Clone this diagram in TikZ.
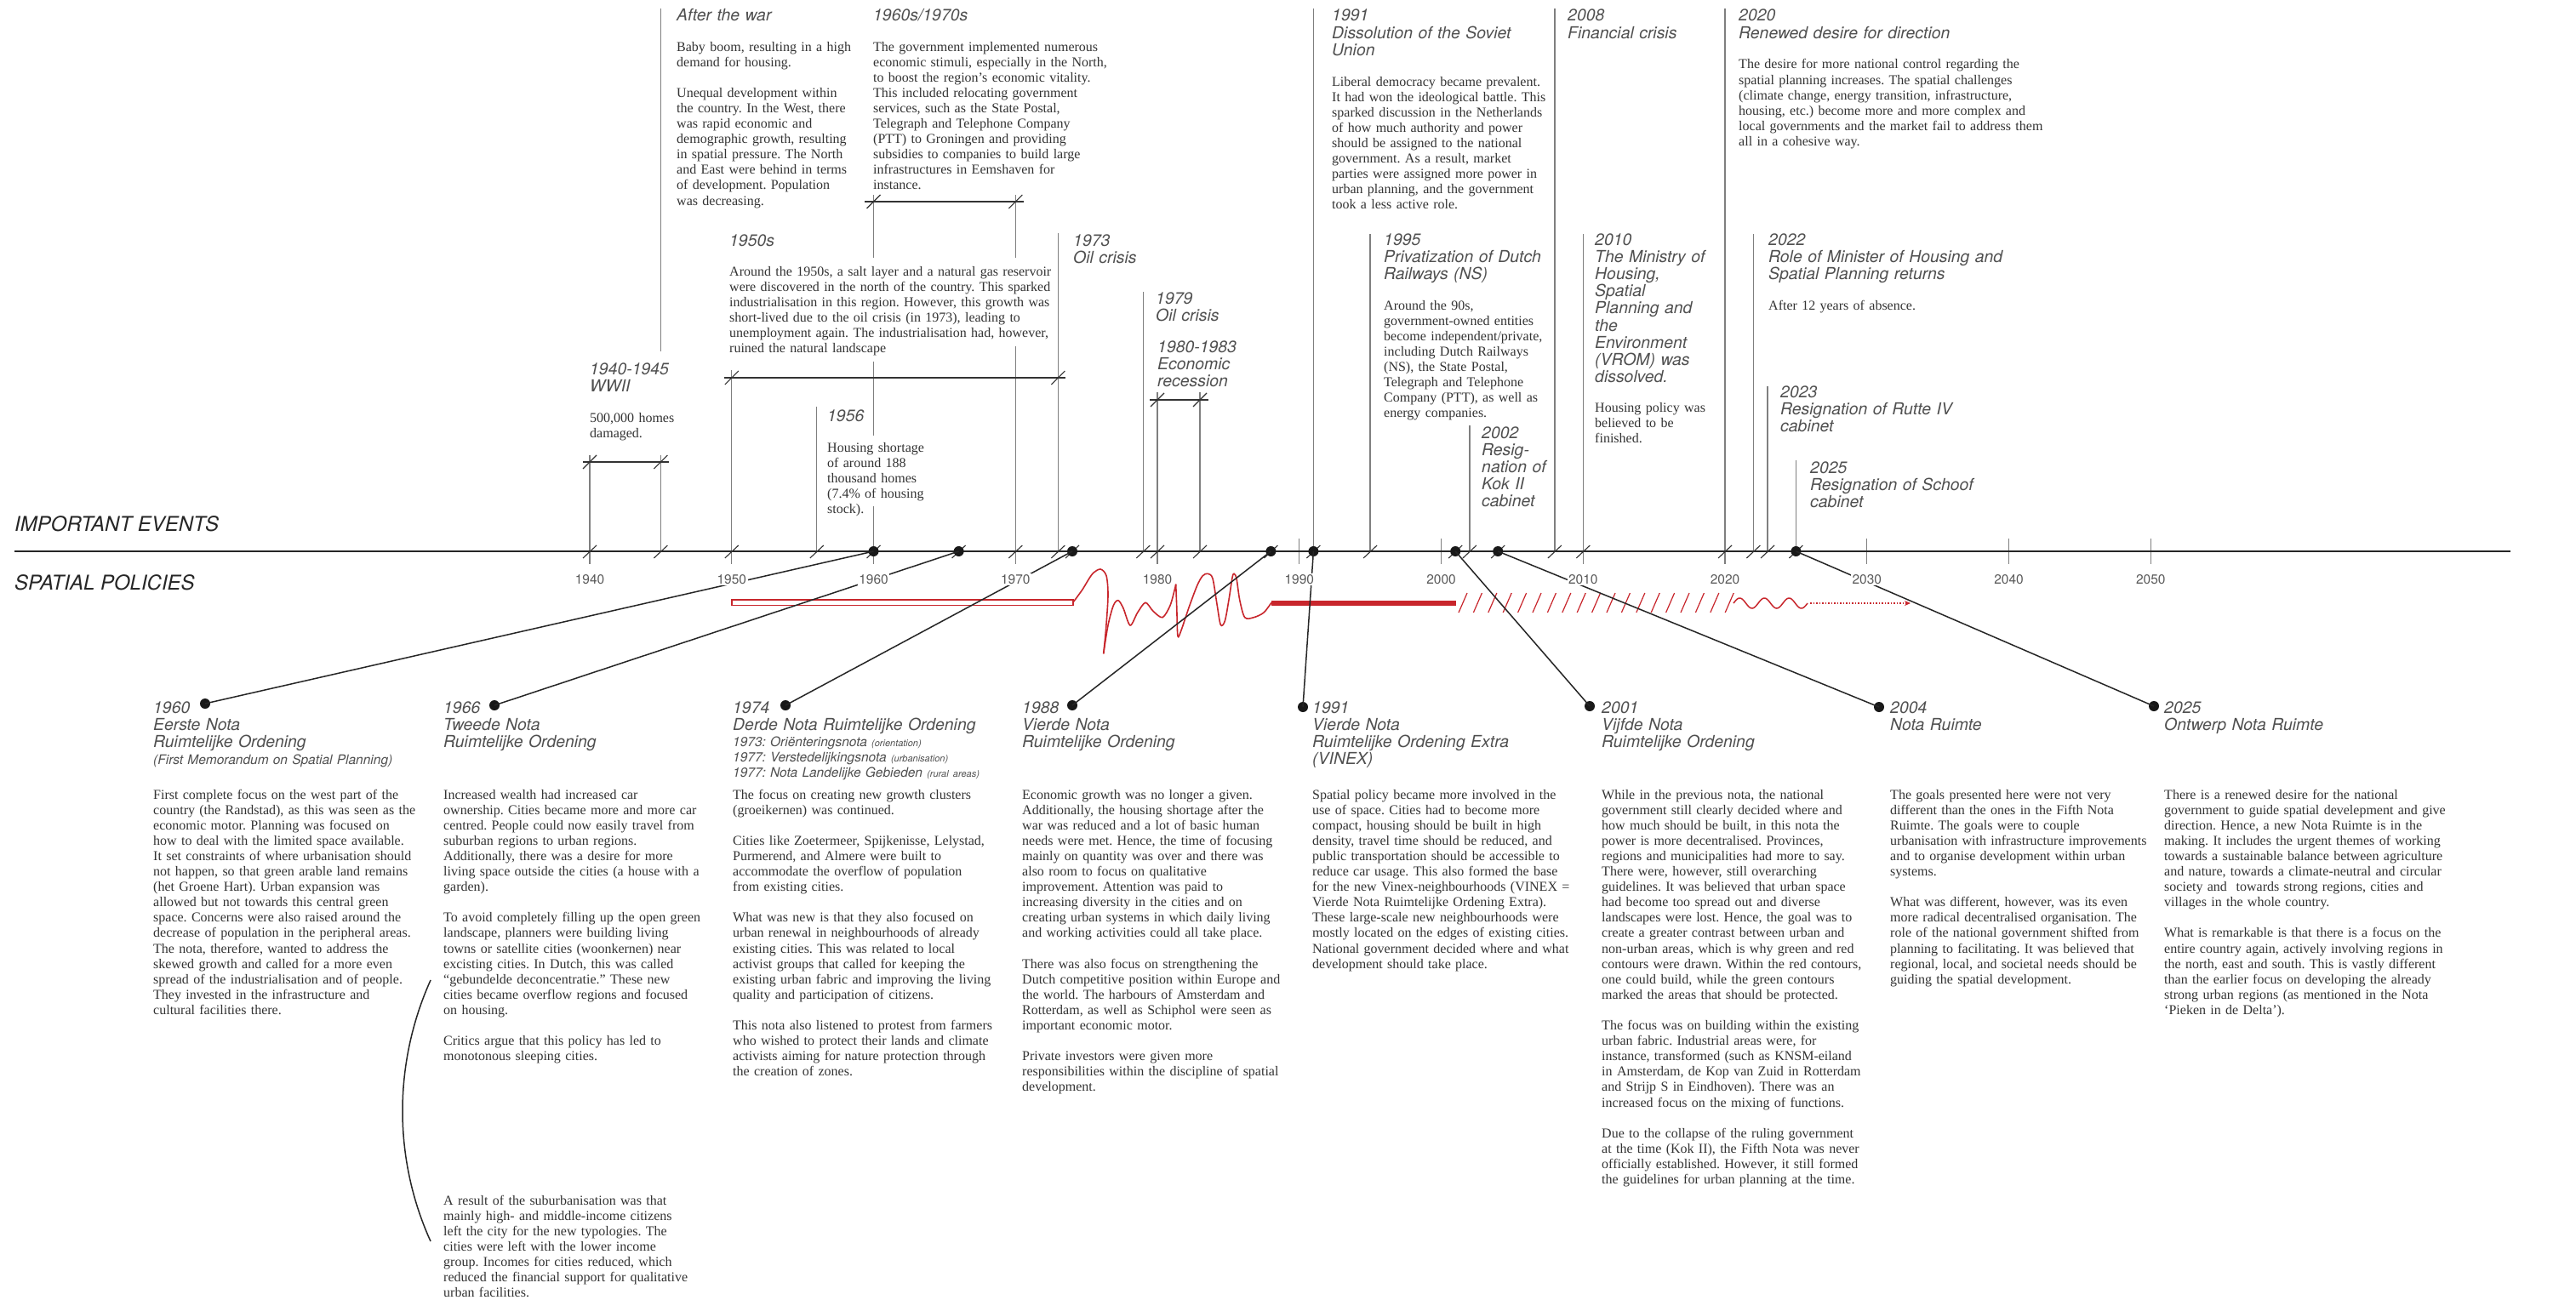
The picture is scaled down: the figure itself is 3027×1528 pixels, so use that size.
\documentclass[tikz,border=0pt]{standalone}
\usepackage{fontspec}
\setmainfont{Liberation Serif}
\newfontfamily\hv{TeX Gyre Heros}
\usetikzlibrary{arrows.meta}
\definecolor{headc}{HTML}{505050}
\definecolor{bodyc}{HTML}{333333}
\definecolor{linec}{HTML}{7F7F7F}
\definecolor{yearc}{HTML}{5A5A5A}
\definecolor{redc}{HTML}{C8262C}
\frenchspacing
\begin{document}
\frenchspacing
\begin{tikzpicture}[x=1pt,y=-1pt,
  head/.style={anchor=base west,inner sep=0pt,align=left,text width=700pt,text=headc,font=\hv\itshape\fontsize{19.4}{20.2}\selectfont},
  body/.style={anchor=base west,inner sep=0pt,align=left,text width=700pt,text=bodyc,font=\fontsize{16}{18.1}\selectfont},
  sub/.style={anchor=base west,inner sep=0pt,align=left,text width=700pt,text=headc,font=\hv\itshape\fontsize{15.5}{18}\selectfont},
  yearlbl/.style={fill=white,inner sep=1.5pt,text=yearc,font=\hv\fontsize{15.5}{16}\selectfont},
  sect/.style={anchor=base west,inner sep=0pt,text=black!85,font=\hv\itshape\fontsize{24}{26}\selectfont},
  evline/.style={draw=linec,line width=1.3pt},
  brk/.style={draw=black!80,line width=1.3pt},
  slashmk/.style={draw=black!80,line width=1.1pt},
  axisline/.style={draw=black!85,line width=2pt},
  dot/.style={circle,fill=black!90,inner sep=0pt,minimum size=12pt},
  conn/.style={draw=black!85,line width=1.5pt},
  redline/.style={draw=redc,line width=1.6pt}
]
\useasboundingbox[fill=white] (0,0) rectangle (3027,1528);

% ---------- event lines ----------
\draw[evline] (693,535) -- (693,663);
\draw[evline] (776.4,10) -- (776.4,413);
\draw[evline] (776.4,535) -- (776.4,648);
\draw[evline] (859.8,435) -- (859.8,663);
\draw[evline] (959.8,478) -- (959.8,648);
\draw[evline] (1026.5,229) -- (1026.5,303);
\draw[evline] (1026.5,425) -- (1026.5,512);
\draw[evline] (1026.5,595) -- (1026.5,663);
\draw[evline] (1193.3,229) -- (1193.3,303);
\draw[evline] (1193.3,407) -- (1193.3,663);
\draw[evline] (1243.3,274) -- (1243.3,648);
\draw[evline] (1343.3,343) -- (1343.3,648);
\draw[evline] (1360,461) -- (1360,663);
\draw[evline] (1410,461) -- (1410,648);
\draw[evline] (1543.4,10) -- (1543.4,648);
\draw[evline] (1610.1,275) -- (1610.1,648);
\draw[evline] (1726.9,500) -- (1726.9,648);
\draw[evline] (1826.9,10) -- (1826.9,648);
\draw[evline] (1860.3,275) -- (1860.3,663);
\draw[evline] (2027,10) -- (2027,663);
\draw[evline] (2060.4,275) -- (2060.4,648);
\draw[evline] (2077,454) -- (2077,648);
\draw[evline] (2110.4,541) -- (2110.4,648);
% decade ticks
\foreach \x in {1526.8,1693.5,2193.8,2360.5,2527.3}
  \draw[evline] (\x,633) -- (\x,663);

% ---------- brackets ----------
\draw[brk] (1016,237) -- (1203,237);
\draw[brk] (851,444) -- (1252,444);
\draw[brk] (685,543) -- (786,543);
\draw[brk] (1351,470) -- (1420,470);
\foreach \x/\y in {1026.5/237,1193.3/237,859.8/444,1243.3/444,693/543,776.4/543,1360/470,1410/470}
  \draw[slashmk] (\x-8,\y+8) -- (\x+8,\y-8);

% ---------- axis ----------
\draw[axisline] (17,648) -- (2950,648);
\foreach \x in {693,776.4,859.8,959.8,1026.5,1126.6,1193.3,1243.3,1260,1343.3,1360,1410,1493.4,1543.4,1610.1,1710.2,1726.9,1760.2,1826.9,1860.3,2027,2060.4,2077,2110.4}
  \draw[slashmk] (\x-8,656) -- (\x+8,641);

\node[sect] (ie) at (17,624) {IMPORTANT EVENTS};
\node[sect] (sp) at (17,693) {SPATIAL POLICIES};

% ---------- spatial policy band ----------
\draw[redline,line width=1.7pt,fill=white] (860,705) rectangle (1260.7,711.5);
\draw[redline] plot[smooth,tension=0.5] coordinates {(1260.7,708.3) (1271.7,693.3) (1283.3,675) (1293,669) (1300,676.7) (1302,700) (1299.5,740) (1296.7,768.3)};
\draw[redline] plot[smooth,tension=0.5] coordinates {(1296.7,768.3) (1302,735) (1308.3,711.7) (1314,705.7) (1320,715) (1328,735) (1336.7,720) (1346,708.3) (1355,718.3) (1366,725.7) (1375,711.7) (1380.5,692) (1381.7,686.7)};
\draw[redline] plot[smooth,tension=0.5] coordinates {(1381.7,686.7) (1382.8,715) (1384,747.7) (1388.3,740) (1396.7,715) (1406.7,688.3) (1413.3,676.7) (1419.3,674.3) (1425,680) (1430,710) (1434.3,734.3) (1439.3,730) (1444,705) (1448,679) (1450,674.3) (1453,680) (1456.7,705) (1462.7,725.7) (1473.3,725.7) (1485,720) (1494,708.3)};
\fill[redc] (1494,705.5) rectangle (1711,711.5);
\foreach \i in {0,...,18}
  \draw[redc,line width=1.2pt] ({1714+\i*17.4},720) -- ({1724+\i*17.4},697);
\draw[redline,line width=1.5pt] plot[domain=0:87,samples=80] ({2037+\x},{709-6*sin(\x*12.4138)});
\draw[redc,line width=1.5pt,dash pattern=on 1.5pt off 2pt,-{Stealth[length=7pt,width=6pt]}] (2127,709) -- (2245,709);

% ---------- policy dots and connectors ----------
\foreach \n/\x in {1960/1026.5,1966/1126.6,1974/1260,1988/1493.4,1991/1543.4,2001/1710.2,2004/1760.2,2025/2110.4}
  \node[dot] (p\n) at (\x,648) {};
\node[dot] (l1960) at (241,827) {};
\node[dot] (l1966) at (581,829) {};
\node[dot] (l1974) at (923,829) {};
\node[dot] (l1988) at (1260,829) {};
\node[dot] (l1991) at (1531,831) {};
\node[dot] (l2001) at (1868,830) {};
\node[dot] (l2004) at (2208,831) {};
\node[dot] (l2025) at (2531,830) {};
\foreach \n in {1960,1966,1974,1988,1991,2001,2004,2025}
  \draw[conn] (p\n.center) -- (l\n.center);

% ---------- year labels ----------
\foreach \y/\x in {1940/693,1950/859.8,1960/1026.5,1970/1193.3,1980/1360,1990/1526.8,2000/1693.5,2010/1860.3,2020/2027,2030/2193.8,2040/2360.5,2050/2527.3}
  \node[yearlbl] (yl\y) at (\x,681) {\y};

% ---------- arc ----------
\draw[conn] (506,1152) .. controls (462,1250) and (462,1362) .. (506,1459);

% ---------- top events ----------
\node[head] (h1945) at (795,25) {After the war};
\node[body] (b1945) at (795,60) {Baby boom, resulting in a high\\demand for housing.\\[\baselineskip]Unequal development within\\the country. In the West, there\\was rapid economic and\\demographic growth, resulting\\in spatial pressure. The North\\and East were behind in terms\\of development. Population\\was decreasing.};

\node[head] (h1960s) at (1026,25) {1960s/1970s};
\node[body] (b1960s) at (1026,60) {The government implemented numerous\\economic stimuli, especially in the North,\\to boost the region’s economic vitality.\\This included relocating government\\services, such as the State Postal,\\Telegraph and Telephone Company\\(PTT) to Groningen and providing\\subsidies to companies to build large\\infrastructures in Eemshaven for\\instance.};

\node[head] (h1950s) at (857,289) {1950s};
\node[body] (b1950s) at (857,324) {Around the 1950s, a salt layer and a natural gas reservoir\\were discovered in the north of the country. This sparked\\industrialisation in this region. However, this growth was\\short-lived due to the oil crisis (in 1973), leading to\\unemployment again. The industrialisation had, however,\\ruined the natural landscape};

\node[head] (h1940) at (693,440) {1940-1945\\WWII};
\node[body] (b1940) at (693,496) {500,000 homes\\damaged.};

\node[head] (h1956) at (972,495) {1956};
\node[body] (b1956) at (972,531) {Housing shortage\\of around 188\\thousand homes\\(7.4\% of housing\\stock).};

\node[head] (h1973) at (1261,289) {1973\\Oil crisis};
\node[head] (h1979) at (1358,357) {1979\\Oil crisis};
\node[head] (h1980) at (1360,414) {1980-1983\\Economic\\recession};

\node[head] (h1991) at (1565,25) {1991\\Dissolution of the Soviet\\Union};
\node[body] (b1991) at (1565,101) {Liberal democracy became prevalent.\\It had won the ideological battle. This\\sparked discussion in the Netherlands\\of how much authority and power\\should be assigned to the national\\government. As a result, market\\parties were assigned more power in\\urban planning, and the government\\took a less active role.};

\node[head] (h1995) at (1626,288) {1995\\Privatization of Dutch\\Railways (NS)};
\node[body] (b1995) at (1626,364) {Around the 90s,\\government-owned entities\\become independent/private,\\including Dutch Railways\\(NS), the State Postal,\\Telegraph and Telephone\\Company (PTT), as well as\\energy companies.};

\node[head] (h2002) at (1741,515) {2002\\Resig-\\nation of\\Kok II\\cabinet};

\node[head] (h2008) at (1842,25) {2008\\Financial crisis};

\node[head] (h2010) at (1874,288) {2010\\The Ministry of\\Housing,\\Spatial\\Planning and\\the\\Environment\\(VROM) was\\dissolved.};
\node[body] (b2010) at (1874,484) {Housing policy was\\believed to be\\finished.};

\node[head] (h2020) at (2043,25) {2020\\Renewed desire for direction};
\node[body] (b2020) at (2043,81) {The desire for more national control regarding the\\spatial planning increases. The spatial challenges\\(climate change, energy transition, infrastructure,\\housing, etc.) become more and more complex and\\local governments and the market fail to address them\\all in a cohesive way.};

\node[head] (h2022) at (2078,288) {2022\\Role of Minister of Housing and\\Spatial Planning returns};
\node[body] (b2022) at (2078,364) {After 12 years of absence.};

\node[head] (h2023) at (2092,467) {2023\\Resignation of Rutte IV\\cabinet};
\node[head] (h2025) at (2127,556) {2025\\Resignation of Schoof\\cabinet};

% ---------- spatial policies ----------
\node[head] (t1960) at (180,838) {1960\\Eerste Nota\\Ruimtelijke Ordening};
\node[sub] (s1960) at (180,898) {(First Memorandum on Spatial Planning)};
\node[body] (c1960) at (180,939) {First complete focus on the west part of the\\country (the Randstad), as this was seen as the\\economic motor. Planning was focused on\\how to deal with the limited space available.\\It set constraints of where urbanisation should\\not happen, so that green arable land remains\\(het Groene Hart). Urban expansion was\\allowed but not towards this central green\\space. Concerns were also raised around the\\decrease of population in the peripheral areas.\\The nota, therefore, wanted to address the\\skewed growth and called for a more even\\spread of the industrialisation and of people.\\They invested in the infrastructure and\\cultural facilities there.};

\node[head] (t1966) at (521,838) {1966\\Tweede Nota\\Ruimtelijke Ordening};
\node[body] (c1966) at (521,939) {Increased wealth had increased car\\ownership. Cities became more and more car\\centred. People could now easily travel from\\suburban regions to urban regions.\\Additionally, there was a desire for more\\living space outside the cities (a house with a\\garden).\\[\baselineskip]To avoid completely filling up the open green\\landscape, planners were building living\\towns or satellite cities (woonkernen) near\\excisting cities. In Dutch, this was called\\“gebundelde deconcentratie.” These new\\cities became overflow regions and focused\\on housing.\\[\baselineskip]Critics argue that this policy has led to\\monotonous sleeping cities.};
\node[body] (d1966) at (521,1416) {A result of the suburbanisation was that\\mainly high- and middle-income citizens\\left the city for the new typologies. The\\cities were left with the lower income\\group. Incomes for cities reduced, which\\reduced the financial support for qualitative\\urban facilities.};

\node[head] (t1974) at (861,838) {1974\\Derde Nota Ruimtelijke Ordening};
\node[sub] (s1974) at (861,877) {1973: Oriënteringsnota {\fontsize{11}{12}\selectfont (orientation)}\\1977: Verstedelijkingsnota {\fontsize{11}{12}\selectfont (urbanisation)}\\1977: Nota Landelijke Gebieden {\fontsize{11}{12}\selectfont (rural areas)}};
\node[body] (c1974) at (861,939) {The focus on creating new growth clusters\\(groeikernen) was continued.\\[\baselineskip]Cities like Zoetermeer, Spijkenisse, Lelystad,\\Purmerend, and Almere were built to\\accommodate the overflow of population\\from existing cities.\\[\baselineskip]What was new is that they also focused on\\urban renewal in neighbourhoods of already\\existing cities. This was related to local\\activist groups that called for keeping the\\existing urban fabric and improving the living\\quality and participation of citizens.\\[\baselineskip]This nota also listened to protest from farmers\\who wished to protect their lands and climate\\activists aiming for nature protection through\\the creation of zones.};

\node[head] (t1988) at (1201,838) {1988\\Vierde Nota\\Ruimtelijke Ordening};
\node[body] (c1988) at (1201,939) {Economic growth was no longer a given.\\Additionally, the housing shortage after the\\war was reduced and a lot of basic human\\needs were met. Hence, the time of focusing\\mainly on quantity was over and there was\\also room to focus on qualitative\\improvement. Attention was paid to\\increasing diversity in the cities and on\\creating urban systems in which daily living\\and working activities could all take place.\\[\baselineskip]There was also focus on strengthening the\\Dutch competitive position within Europe and\\the world. The harbours of Amsterdam and\\Rotterdam, as well as Schiphol were seen as\\important economic motor.\\[\baselineskip]Private investors were given more\\responsibilities within the discipline of spatial\\development.};

\node[head] (t1991) at (1542,838) {1991\\Vierde Nota\\Ruimtelijke Ordening Extra\\(VINEX)};
\node[body] (c1991) at (1542,939) {Spatial policy became more involved in the\\use of space. Cities had to become more\\compact, housing should be built in high\\density, travel time should be reduced, and\\public transportation should be accessible to\\reduce car usage. This also formed the base\\for the new Vinex-neighbourhoods (VINEX =\\Vierde Nota Ruimtelijke Ordening Extra).\\These large-scale new neighbourhoods were\\mostly located on the edges of existing cities.\\National government decided where and what\\development should take place.};

\node[head] (t2001) at (1882,838) {2001\\Vijfde Nota\\Ruimtelijke Ordening};
\node[body] (c2001) at (1882,939) {While in the previous nota, the national\\government still clearly decided where and\\how much should be built, in this nota the\\power is more decentralised. Provinces,\\regions and municipalities had more to say.\\There were, however, still overarching\\guidelines. It was believed that urban space\\had become too spread out and diverse\\landscapes were lost. Hence, the goal was to\\create a greater contrast between urban and\\non-urban areas, which is why green and red\\contours were drawn. Within the red contours,\\one could build, while the green contours\\marked the areas that should be protected.\\[\baselineskip]The focus was on building within the existing\\urban fabric. Industrial areas were, for\\instance, transformed (such as KNSM-eiland\\in Amsterdam, de Kop van Zuid in Rotterdam\\and Strijp S in Eindhoven). There was an\\increased focus on the mixing of functions.\\[\baselineskip]Due to the collapse of the ruling government\\at the time (Kok II), the Fifth Nota was never\\officially established. However, it still formed\\the guidelines for urban planning at the time.};

\node[head] (t2004) at (2221,838) {2004\\Nota Ruimte};
\node[body] (c2004) at (2221,939) {The goals presented here were not very\\different than the ones in the Fifth Nota\\Ruimte. The goals were to couple\\urbanisation with infrastructure improvements\\and to organise development within urban\\systems.\\[\baselineskip]What was different, however, was its even\\more radical decentralised organisation. The\\role of the national government shifted from\\planning to facilitating. It was believed that\\regional, local, and societal needs should be\\guiding the spatial development.};

\node[head] (t2025) at (2543,838) {2025\\Ontwerp Nota Ruimte};
\node[body] (c2025) at (2543,939) {There is a renewed desire for the national\\government to guide spatial develepment and give\\direction. Hence, a new Nota Ruimte is in the\\making. It includes the urgent themes of working\\towards a sustainable balance between agriculture\\and nature, towards a climate-neutral and circular\\society and\ \ towards strong regions, cities and\\villages in the whole country.\\[\baselineskip]What is remarkable is that there is a focus on the\\entire country again, actively involving regions in\\the north, east and south. This is vastly different\\than the earlier focus on developing the already\\strong urban regions (as mentioned in the Nota\\‘Pieken in de Delta’).};
\end{tikzpicture}
\end{document}
